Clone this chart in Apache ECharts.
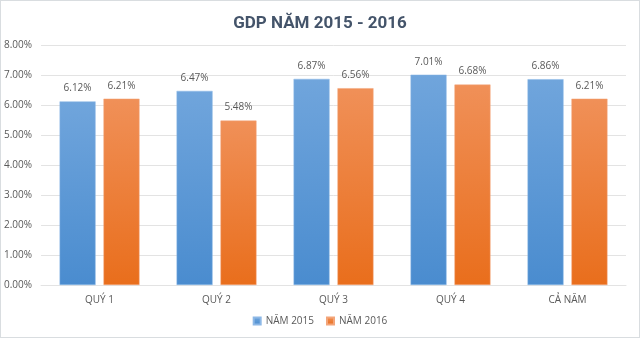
<!DOCTYPE html>
<html><head><meta charset="utf-8">
<script src="https://cdn.jsdelivr.net/npm/echarts@6/dist/echarts.min.js"></script>
<style>html,body{margin:0;padding:0;background:#fff}#c{width:640px;height:338px;box-sizing:border-box;border:1px solid #d9dde0}</style>
</head><body><div id="c"></div>
<script>
const categories = ['QUÝ 1', 'QUÝ 2', 'QUÝ 3', 'QUÝ 4', 'CẢ NĂM'];
const series2015 = [6.12, 6.47, 6.87, 7.01, 6.86];
const series2016 = [6.21, 5.48, 6.56, 6.68, 6.21];
const seriesNames = ['NĂM 2015', 'NĂM 2016'];

const chart = echarts.init(document.getElementById('c'));
const font = 'Open Sans';
function grad(top, bottom) {
  return new echarts.graphic.LinearGradient(0, 0, 0, 1, [{offset: 0, color: top}, {offset: 1, color: bottom}]);
}
const lbl = {show: true, position: 'top', distance: 8, color: '#595959', fontSize: 10, fontFamily: font,
  formatter: p => p.value.toFixed(2) + '%'};
chart.setOption({
  animation: false,
  title: {text: 'GDP NĂM 2015 - 2016', left: 'center', top: 9,
    textStyle: {color: '#44546A', fontSize: 17, fontWeight: 'bold', fontFamily: 'Roboto'}},
  legend: {bottom: 6, left: 'center', itemWidth: 7, itemHeight: 7, itemGap: 12,
    textStyle: {color: '#595959', fontSize: 10, fontFamily: font}, icon: 'rect'},
  grid: {left: 37, right: 13, top: 44, bottom: 52},
  xAxis: {type: 'category', data: categories,
    axisLine: {lineStyle: {color: '#e3e3e3'}}, axisTick: {show: false},
    axisLabel: {color: '#595959', fontSize: 10, fontFamily: font, margin: 10}},
  yAxis: {type: 'value', min: 0, max: 8, interval: 1,
    axisLabel: {color: '#595959', fontSize: 10, fontFamily: font, margin: 9, formatter: v => v.toFixed(2) + '%'},
    splitLine: {lineStyle: {color: '#e3e3e3', width: 1}}},
  series: [
    {name: seriesNames[0], type: 'bar', data: series2015, barWidth: 36, barGap: '22%',
     itemStyle: {color: grad('#70a5dc', '#4a8ccf'), borderColor: '#8db8e6', borderWidth: 0.5}, label: lbl},
    {name: seriesNames[1], type: 'bar', data: series2016, barWidth: 36,
     itemStyle: {color: grad('#f09058', '#e96e1c'), borderColor: '#f3a57a', borderWidth: 0.5}, label: lbl}
  ]
});
</script></body></html>
